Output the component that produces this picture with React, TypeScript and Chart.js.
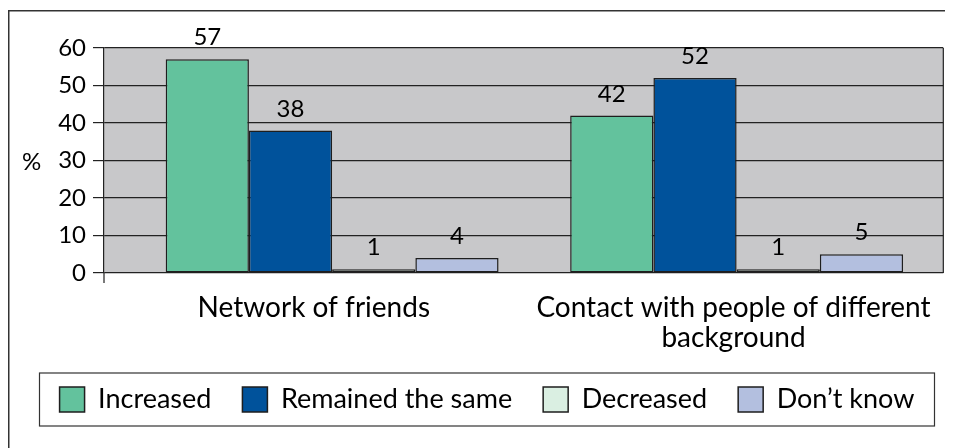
import React, { useEffect, useRef } from 'react';
import { Chart, registerables } from 'chart.js';

Chart.register(...registerables);

// ---- data ----
const categories: string[][] = [
  ['Network of friends'],
  ['Contact with people of different', 'background'],
];
const seriesNames = ['Increased', 'Remained the same', 'Decreased', 'Don\u2019t know'];
const increased = [57, 42];
const remainedSame = [38, 52];
const decreased = [1, 1];
const dontKnow = [4, 5];
const yTicks = [0, 10, 20, 30, 40, 50, 60];

const FONT = 'Lato';
const seriesColors = ['#63C29D', '#00529B', '#DAEFE2', '#B3BFDF'];

const decorPlugin = {
  id: 'decor',
  beforeDraw(chart: any) {
    const { ctx, chartArea: a } = chart;
    ctx.save();
    ctx.fillStyle = '#C8C8CA';
    ctx.fillRect(a.left, a.top, a.right - a.left, a.bottom - a.top);
    // outer frame (top + left)
    ctx.strokeStyle = '#333';
    ctx.lineWidth = 1.5;
    ctx.beginPath();
    ctx.moveTo(0.75, chart.height);
    ctx.lineTo(0.75, 2.75);
    ctx.lineTo(chart.width, 2.75);
    ctx.stroke();
    ctx.restore();
  },
  afterDatasetsDraw(chart: any) {
    const { ctx } = chart;
    ctx.save();
    ctx.fillStyle = '#000';
    ctx.font = `24px ${FONT}`;
    ctx.textAlign = 'center';
    ctx.textBaseline = 'alphabetic';
    chart.data.datasets.forEach((ds: any, i: number) => {
      const meta = chart.getDatasetMeta(i);
      meta.data.forEach((el: any, j: number) => {
        ctx.fillText(String(ds.data[j]), el.x, el.y - 14);
      });
    });
    ctx.restore();
  },
  afterDraw(chart: any) {
    const { ctx, chartArea: a } = chart;
    ctx.save();
    ctx.strokeStyle = '#222';
    ctx.lineWidth = 1.2;
    ctx.beginPath();
    ctx.moveTo(a.right, a.top);
    ctx.lineTo(a.right, a.bottom);
    ctx.moveTo(a.left, a.bottom);
    ctx.lineTo(a.left, a.bottom + 10);
    ctx.stroke();
    // "%" axis label
    ctx.fillStyle = '#000';
    ctx.font = `24px ${FONT}`;
    ctx.textAlign = 'center';
    ctx.textBaseline = 'middle';
    ctx.fillText('%', 23.5, (a.top + a.bottom) / 2 + 2);
    // legend border
    const lg = chart.legend;
    if (lg) {
      const pad = lg.options.labels.padding;
      const rowC = lg.top + pad + 27 / 2;
      const cx = (lg.left + lg.right) / 2;
      ctx.strokeStyle = '#333';
      ctx.lineWidth = 1.2;
      ctx.strokeRect(cx - 447.5, rowC - 26.5, 895, 53);
    }
    ctx.restore();
  },
};

export default function App() {
  const ref = useRef<HTMLCanvasElement>(null);
  useEffect(() => {
    document.body.style.overflow = 'hidden';
    const values = [increased, remainedSame, decreased, dontKnow];
    const chart = new Chart(ref.current as HTMLCanvasElement, {
      type: 'bar',
      data: {
        labels: categories as any,
        datasets: seriesNames.map((name, i) => ({
          label: name,
          data: values[i],
          xAxisID: 'x',
          yAxisID: 'y',
          backgroundColor: seriesColors[i],
          borderColor: '#1E1E1E',
          borderWidth: 1.5,
          borderSkipped: false,
          categoryPercentage: 0.823,
          barPercentage: 1,
        })),
      },
      options: {
        responsive: false,
        animation: false,
        events: [],
        devicePixelRatio: 1,
        layout: { padding: { left: 20, right: 7, top: 40, bottom: 25 } },
        plugins: {
          tooltip: { enabled: false },
          legend: {
            position: 'bottom',
            labels: {
              font: { family: FONT, size: 27 },
              color: '#000',
              boxWidth: 25,
              boxHeight: 25,
              padding: 31,
            },
          },
        },
        scales: {
          x: {
            type: 'category',
            display: false,
            afterBuildTicks: (s: any) => {
              s._startValue = -0.564;
              s._valueRange = 2.075;
            },
          },
          x2: {
            type: 'category',
            position: 'bottom',
            grid: { display: false, drawTicks: false },
            border: { display: false },
            ticks: {
              font: { family: FONT, size: 28, lineHeight: 1.07 },
              color: '#000',
              padding: 20,
              maxRotation: 0,
              autoSkip: false,
            },
            afterFit: (s: any) => {
              s.height = 82;
            },
          },
          y: {
            min: 0,
            max: 60,
            afterBuildTicks: (s: any) => {
              s.ticks = yTicks.map((v) => ({ value: v }));
            },
            grid: { color: '#222', lineWidth: 1.2, tickLength: 11, tickColor: '#222' },
            border: { display: true, color: '#222', width: 1.2 },
            ticks: {
              stepSize: 10,
              autoSkip: false,
              font: { family: FONT, size: 24 },
              color: '#000',
              padding: 7,
            },
            afterFit: (s: any) => {
              s.width = 76;
            },
          },
        },
      },
      plugins: [decorPlugin],
    } as any);
    return () => chart.destroy();
  }, []);
  return (
    <div style={{ width: 945, height: 440 }}>
      <canvas ref={ref} width={945} height={440} style={{ display: 'block' }} />
    </div>
  );
}
